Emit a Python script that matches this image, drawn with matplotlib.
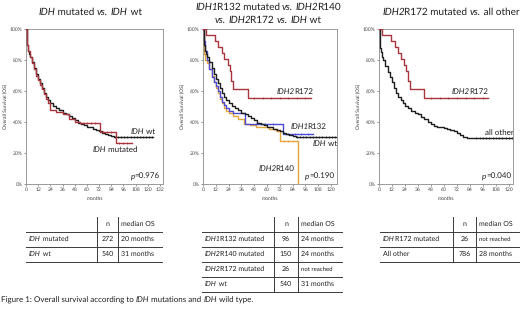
import numpy as np
import matplotlib
matplotlib.use('Agg')
import matplotlib.pyplot as plt

plt.rcParams['font.family'] = ['Lato', 'DejaVu Sans']
plt.rcParams['text.hinting'] = 'no_hinting'
plt.rcParams['text.hinting_factor'] = 1

# Kaplan-Meier curves (months, survival %)
wt_t = [0, 0.5, 1, 2, 3, 4, 6, 8, 10, 12, 14, 16, 18, 20, 22, 24, 27, 30, 33, 36, 39, 42,
        45, 48, 51, 54, 57, 60, 63, 66, 69, 72, 75, 78, 81, 84, 87, 125]
wt_s = [100, 94, 90, 86, 84, 82, 79, 75, 71, 68, 65, 62, 59, 56, 54, 52, 50.5, 49, 47.5, 46,
        45, 44, 42.5, 41, 39.5, 38.5, 38, 37, 36.5, 35.5, 35, 34, 33, 32, 31.5, 31, 30.5, 30.5]
wt_cens = [88, 91, 94, 97, 100, 103, 106, 109, 112, 115, 118, 121, 124]

mut_t = [0, 1, 2, 4, 6, 8, 10, 12, 14, 16, 18, 20, 22, 24, 30, 36, 42, 48, 53, 73, 89, 104]
mut_s = [100, 90, 86, 82, 78, 74, 70, 67, 64, 61, 58, 55, 52, 48, 46.5, 45, 42, 40, 39.5,
         33.5, 26.5, 26.5]
mut_cens = [56, 60, 64, 68, 76, 80, 84, 92, 96, 100]

r132_t = [0, 1, 2, 4, 6, 8, 10, 12, 14, 16, 18, 20, 22, 24, 28, 39, 75, 103]
r132_s = [100, 92, 86, 80, 74, 69, 66, 63, 60, 56, 53, 51, 49, 47, 45.5, 38.5, 32, 32]
r132_cens = [50, 58, 66, 80, 86, 92, 98]

r140_t = [0, 0.5, 1, 2, 4, 6, 8, 10, 12, 14, 16, 18, 20, 22, 24, 28, 33, 38, 44, 50, 56,
          62, 68, 72, 89]
r140_s = [100, 90, 84, 80, 78, 74, 70, 66, 62, 59, 55, 52, 49, 47, 45.5, 44, 42, 39, 38,
          37, 36.5, 35.5, 34.5, 28, 0]
r140_cens = [76, 80, 84]

r172_t = [0, 2.5, 11.5, 14.5, 17.5, 20, 23, 25, 26.5, 28.5, 42, 101]
r172_s = [100, 96.2, 92.3, 88.5, 84.6, 80.8, 76.9, 73.1, 66.5, 61.5, 55.4, 55.4]
r172_cens = [48, 56, 64, 72, 80, 88, 96]

oth_t = [0, 0.5, 1, 2, 3, 4, 6, 8, 10, 12, 14, 16, 18, 20, 22, 24, 27, 30, 33, 36, 39, 42,
         45, 48, 51, 54, 57, 60, 63, 66, 69, 72, 75, 78, 81, 84, 88, 124]
oth_s = [100, 93, 88, 85, 82, 80, 76, 72, 69, 66, 62, 59, 56, 54, 52, 50.5, 49, 47, 46, 45,
         43.5, 42, 40, 38.5, 37.5, 37, 36.5, 36, 35.5, 35, 34, 33, 31.5, 30.5, 30, 30, 29.5, 29.5]
oth_cens = [90, 93, 96, 99, 102, 105, 108, 111, 114, 117, 120, 123]

# tables (pieces: text, italic?)
t1_rows = [[('IDH', 1), (' mutated', 0)], [('IDH', 1), (' wt', 0)]]
t1_n = ['272', '540']
t1_med = ['20 months', '31 months']
t2_rows = [[('IDH1', 1), ('R132 mutated', 0)], [('IDH2', 1), ('R140 mutated', 0)],
           [('IDH2', 1), ('R172 mutated', 0)], [('IDH', 1), (' wt', 0)]]
t2_n = ['96', '150', '26', '540']
t2_med = ['24 months', '24 months', 'not reached', '31 months']
t3_rows = [[('IDH', 1), ('R172 mutated', 0)], [('All other', 0)]]
t3_n = ['26', '786']
t3_med = ['not reached', '28 months']

BLACK = '#1e1e1e'
RED = '#a8343c'
BLUE = '#4b4bd6'
ORANGE = '#e6a43a'

W, H = 520, 316
fig = plt.figure(figsize=(5.2, 3.16), dpi=100)
fig.patch.set_facecolor('white')
renderer = fig.canvas.get_renderer()

ov = fig.add_axes([0, 0, 1, 1])
ov.set_xlim(0, W)
ov.set_ylim(H, 0)
ov.axis('off')


def text_width(s, fs, style):
    def w(txt):
        t = fig.text(0, 0, txt, fontsize=fs, style=style)
        bb = t.get_window_extent(renderer=renderer)
        t.remove()
        return bb.width
    wd = w('|' + s + '|') - w('||')
    # Lato digits are tabular, tighten "IDH1R132" style joins
    if s[-1].isdigit() and style == 'italic':
        wd -= 0.12 * fs * 100 / 72
    return wd


def rich(ax, x, y, parts, fs, ha='left', color=BLACK):
    px, py = ax.transData.transform((x, y))
    x0 = px
    # shared baseline for every piece (y given as visual centre)
    y0 = H - py + 0.27 * fs * 100 / 72
    widths = [text_width(s, fs, 'italic' if it else 'normal') for s, it in parts]
    total = sum(widths)
    if ha == 'center':
        x0 -= total / 2
    elif ha == 'right':
        x0 -= total
    for (s, it), w in zip(parts, widths):
        ov.text(x0, y0, s, fontsize=fs, style='italic' if it else 'normal',
                ha='left', va='baseline', color=color)
        x0 += w


def km(ax, t, s, cens, color, lw=1.0):
    t = np.asarray(t, float)
    s = np.asarray(s, float)
    ax.plot(t, s, drawstyle='steps-post', color=color, lw=lw, zorder=3)
    c = np.asarray(cens, float)
    cs = s[np.searchsorted(t, c, side='right') - 1]
    ax.plot(c, cs, ls='none', marker='|', ms=1.8, mew=0.5, color=color, zorder=3)


def panel(left, right, xmax, xticks):
    ax = fig.add_axes([left / W, (H - 184) / H, (right - left) / W, 155 / H])
    ax.set_xlim(0, xmax)
    ax.set_ylim(0, 100)
    ax.set_xticks(xticks)
    ax.set_yticks([0, 20, 40, 60, 80, 100])
    ax.set_yticklabels(['0%', '20%', '40%', '60%', '80%', '100%'])
    ax.tick_params(labelsize=3.6, length=1.5, width=0.4, pad=0.8, colors='#444444')
    for sp in ax.spines.values():
        sp.set_color('#9a9a9a')
        sp.set_linewidth(0.7)
    ax.set_xlabel('months', fontsize=3.4, labelpad=3, color='#333333')
    ax.set_ylabel('Overall Survival (OS)', fontsize=3.4, labelpad=1.5, color='#333333')
    ax.set_facecolor('none')
    return ax


LFS = 5.5

ax1 = panel(26, 163, 135, list(range(0, 133, 12)))
km(ax1, wt_t, wt_s, wt_cens, BLACK)
km(ax1, mut_t, mut_s, mut_cens, RED)
rich(ax1, 103, 33.5, [('IDH', 1), (' wt', 0)], LFS)
rich(ax1, 66, 22, [('IDH', 1), (' mutated', 0)], LFS)
rich(ax1, 132, 5, [('p', 1), ('=0.976', 0)], LFS, ha='right')

ax2 = panel(203, 337, 125.6, list(range(0, 121, 12)))
km(ax2, r140_t, r140_s, r140_cens, ORANGE)
km(ax2, r132_t, r132_s, r132_cens, BLUE)
km(ax2, wt_t, wt_s, wt_cens, BLACK)
km(ax2, r172_t, r172_s, r172_cens, RED)
rich(ax2, 69, 59.5, [('IDH2', 1), ('R172', 0)], LFS)
rich(ax2, 82, 37, [('IDH1', 1), ('R132', 0)], LFS)
rich(ax2, 103, 26, [('IDH', 1), (' wt', 0)], LFS)
rich(ax2, 52, 10, [('IDH2', 1), ('R140', 0)], LFS)
rich(ax2, 123, 5, [('p', 1), ('=0.190', 0)], LFS, ha='right')

ax3 = panel(379, 513, 123.7, list(range(0, 121, 12)))
km(ax3, oth_t, oth_s, oth_cens, BLACK)
km(ax3, r172_t, r172_s, r172_cens, RED)
rich(ax3, 67, 59.5, [('IDH2', 1), ('R172', 0)], LFS)
rich(ax3, 98, 33, [('all other', 0)], LFS)
rich(ax3, 122, 5, [('p', 1), ('=0.040', 0)], LFS, ha='right')

# titles
TFS = 7.2
rich(ov, 90, 12, [('IDH', 1), (' mutated ', 0), ('vs.', 1), (' ', 0), ('IDH', 1),
                  (' wt', 0)], TFS, ha='center')
rich(ov, 268, 7, [('IDH1', 1), ('R132 mutated ', 0), ('vs.', 1), (' ', 0), ('IDH2', 1),
                  ('R140', 0)], TFS, ha='center')
rich(ov, 268, 20, [('vs.', 1), (' ', 0), ('IDH2', 1), ('R172 ', 0), ('vs.', 1), (' ', 0),
                   ('IDH', 1), (' wt', 0)], TFS, ha='center')
rich(ov, 451, 12, [('IDH2', 1), ('R172 mutated ', 0), ('vs.', 1), (' all other', 0)],
     TFS, ha='center')

TBF = 4.9


def table(x0, x1, xa, xb, rows, ns, meds):
    lc = '#3a3a3a'
    top = 217
    step = 15
    nrow = len(rows)
    bottom = 232 + step * nrow
    ov.plot([xa, xa], [top, bottom], color=lc, lw=0.7)
    ov.plot([xb, xb], [top, bottom], color=lc, lw=0.7)
    for i in range(nrow + 1):
        y = 232 + step * i
        ov.plot([x0, x1], [y, y], color=lc, lw=0.7)
    rich(ov, (xa + xb) / 2, 224.5, [('n', 0)], TBF, ha='center')
    rich(ov, xb + 3, 224.5, [('median OS', 0)], TBF)
    for i, (r, n, m) in enumerate(zip(rows, ns, meds)):
        y = 239.5 + step * i
        rich(ov, x0 + 3, y, r, TBF)
        rich(ov, (xa + xb) / 2, y, [(n, 0)], TBF, ha='center')
        fs = 4.4 if m == 'not reached' else TBF
        rich(ov, xb + 3, y, [(m, 0)], fs)


table(26, 162, 97, 118, t1_rows, t1_n, t1_med)
table(202, 342, 274, 298, t2_rows, t2_n, t2_med)
table(380, 519.5, 453, 476, t3_rows, t3_n, t3_med)

rich(ov, 1, 300, [('Figure 1: Overall survival according to ', 0), ('IDH', 1),
                  (' mutations and ', 0), ('IDH', 1), (' wild type.', 0)], 6.0)

fig.savefig('out.png', dpi=100, facecolor='white')
